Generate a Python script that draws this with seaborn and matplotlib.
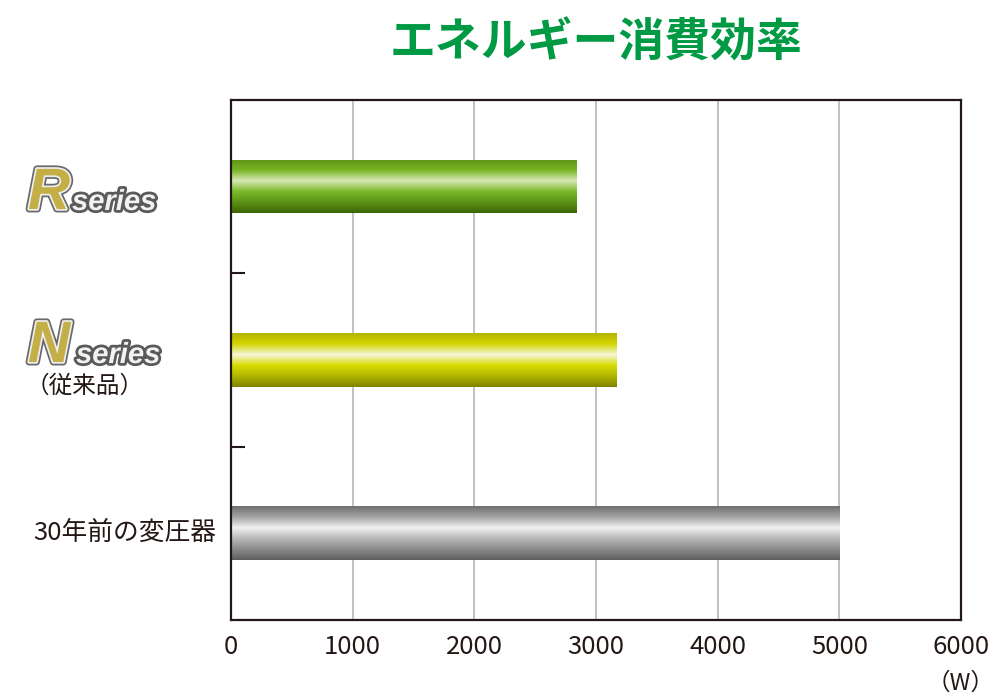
import numpy as np
import pandas as pd
import seaborn as sns
import matplotlib.pyplot as plt
import matplotlib.patheffects as pe
from matplotlib.colors import LinearSegmentedColormap

# chart data
categories = ['R series', 'N series', '30年前の変圧器']
watts = [2840, 3170, 5000]
x_ticks = [0, 1000, 2000, 3000, 4000, 5000, 6000]

# vertical gradients (top -> bottom) for the tube-like bars
gradients = [
    ['#5e9418', '#78b424', '#d6e8b4', '#7cba2a', '#5c9216', '#3d6400'],
    ['#b4b400', '#d2d600', '#f6f6dc', '#d8dc00', '#b0b400', '#7e8400'],
    ['#6e6e6e', '#a4a4a4', '#f0f0f0', '#b8b8b8', '#8a8a8a', '#5e5e5e'],
]

sns.set_theme(style='white')
plt.rcParams['font.family'] = ['Noto Sans CJK JP', 'DejaVu Sans']

df = pd.DataFrame({'cat': categories, 'w': watts})

fig = plt.figure(figsize=(10, 7), dpi=100)
ax = fig.add_axes([0.231, 0.1143, 0.730, 0.7429])

sns.barplot(data=df, x='w', y='cat', orient='h', width=0.31, ax=ax,
            color='white', edgecolor='none', zorder=2)

# fill every bar with its gradient, clipped to the bar shape
for patch, stops in zip(ax.patches, gradients):
    x0, y0 = patch.get_x(), patch.get_y()
    w, h = patch.get_width(), patch.get_height()
    cmap = LinearSegmentedColormap.from_list('g', stops)
    grad = np.linspace(0, 1, 256).reshape(-1, 1)
    im = ax.imshow(grad, cmap=cmap, aspect='auto', origin='upper',
                   extent=(x0, x0 + w, y0 + h, y0), zorder=2)
    im.set_clip_path(patch)
    patch.set_facecolor('none')

ax.set_xlim(0, 6000)
ax.set_ylim(2.5, -0.5)
ax.set_aspect('auto')
ax.set_xticks(x_ticks)
ax.set_xticklabels([str(t) for t in x_ticks], fontsize=18.5, color='#231815')
ax.tick_params(axis='x', length=0, pad=10)
ax.set_yticks([0.5, 1.5])
ax.set_yticklabels([])
ax.tick_params(axis='y', direction='in', length=10, width=1.5, color='#231815', left=True)
ax.set_xlabel('')
ax.set_ylabel('')

ax.grid(axis='x', color='#b5b5b5', linewidth=1.2)
ax.set_axisbelow(True)
for s in ax.spines.values():
    s.set_color('#231815')
    s.set_linewidth(1.6)

# title and unit
fig.text(0.596, 0.938, 'エネルギー消費効率', ha='center', va='center',
         fontsize=33, fontweight='bold', color='#009944')
fig.text(0.961, 0.024, '（W）', ha='center', va='center', fontsize=17, color='#231815')

# series logos as text
logo_letter = [pe.Stroke(linewidth=5, foreground='#6a6a6a'),
               pe.Stroke(linewidth=2.5, foreground='#eeeeee'), pe.Normal()]
logo_word = [pe.Stroke(linewidth=4, foreground='#5a5a5a'), pe.Normal()]

def logo(letter, x, y, x2):
    fig.text(x / 1000, 1 - y / 700, letter, fontsize=42, family='Liberation Sans',
             fontweight='bold', style='italic', color='#c4ae46',
             ha='left', va='baseline', path_effects=logo_letter)
    fig.text(x2 / 1000, 1 - (y + 1) / 700, 'series', fontsize=21, family='Liberation Sans',
             fontweight='bold', style='italic', color='#f2f2f2',
             ha='left', va='baseline', path_effects=logo_word)

logo('R', 28, 209, 72)
logo('N', 28, 362, 76)
fig.text(26 / 1000, 1 - 386 / 700, '（従来品）', fontsize=17, color='#231815',
         ha='left', va='center')
fig.text(216 / 1000, 1 - 533 / 700, '30年前の変圧器', fontsize=18.5, color='#231815',
         ha='right', va='center')

plt.savefig('out.png', dpi=100)
